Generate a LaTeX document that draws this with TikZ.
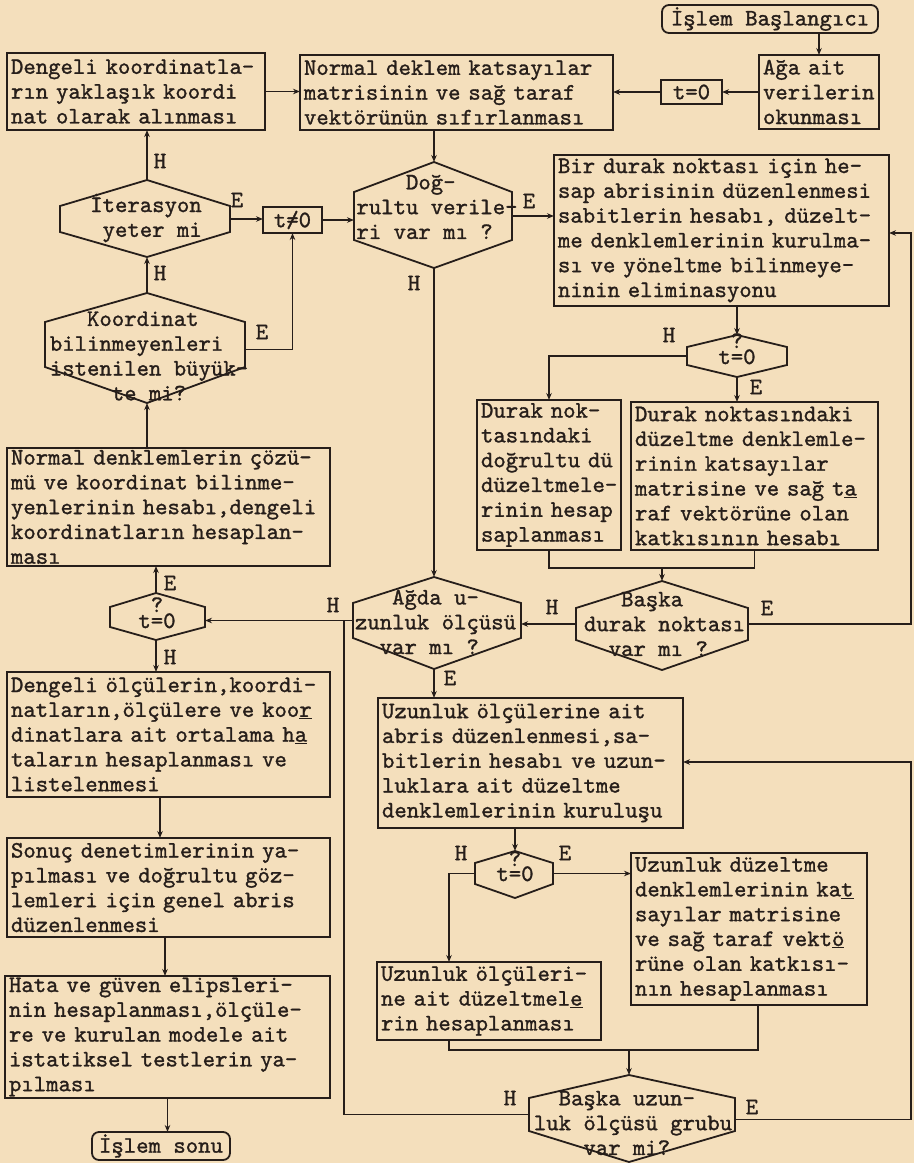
\documentclass[tikz,border=0pt]{standalone}
\usepackage{fontspec}
\usetikzlibrary{arrows.meta}
\newfontfamily\twfont{lmmono10-regular.otf}[FakeBold=1.2]
\definecolor{paper}{RGB}{244,223,188}
\definecolor{ink}{RGB}{38,30,26}
\newcommand\tl[1]{\mbox{#1}}
% name, xl, xr, ytop, ys1, ys2, ybot, xc
\newcommand\hexdec[8]{%
  \node[hexbox, minimum width={(#3)-(#2)}, minimum height={(#6)-(#5)}] (#1) at ({(#2+#3)/2},{(#5+#6)/2}) {};
  \draw[ln] (#2,#5) -- (#8,#4) -- (#3,#5) -- (#3,#6) -- (#8,#7) -- (#2,#6) -- cycle;
  \coordinate (#1-n) at (#8,#4);
  \coordinate (#1-s) at (#8,#7);
}
\begin{document}
\begin{tikzpicture}[x=1pt,y=-1pt,
  ln/.style={draw=ink, line width=1.8pt},
  arr/.style={ln, -{Stealth[length=7pt,width=5.5pt]}},
  txt/.style={font=\twfont\fontsize{23.6pt}{24.8pt}\selectfont, text=ink},
  pbox/.style={txt, draw=ink, line width=1.8pt, rectangle, anchor=north west, inner xsep=4pt, inner ysep=0pt, outer sep=0pt, align=left},
  cbox/.style={txt, draw=ink, line width=1.8pt, rectangle, inner sep=0pt, outer sep=0pt, align=center},
  hexbox/.style={rectangle, draw=none, inner sep=0pt, outer sep=0pt},
  htxt/.style={txt, inner sep=0pt, align=left},
  lbl/.style={txt, inner sep=0pt},
]
\fill[paper] (0,0) rectangle (914,1163);
\useasboundingbox (0,0) rectangle (914,1163);

% ---------- boxes ----------
\node[cbox, rounded corners=7pt, minimum width=216pt, minimum height=28pt] (start) at (770,19) {İşlem Başlangıcı};
\node[pbox, minimum width=120pt, minimum height=74pt, text width=112pt] (aga) at (759,55) {\tl{Ağa ait}\\\tl{verilerin}\\\tl{okunması}};
\node[cbox, minimum width=61pt, minimum height=24pt] (t0) at (691.5,92) {t=0};
\node[pbox, minimum width=313pt, minimum height=75pt, text width=305pt] (norm) at (300,55) {\tl{Normal deklem katsayılar}\\\tl{matrisinin ve sağ taraf}\\\tl{vektörünün sıfırlanması}};
\node[pbox, minimum width=258pt, minimum height=77pt, text width=250pt] (deng) at (7,53) {\tl{Dengeli koordinatla-}\\\tl{rın yaklaşık koordi}\\\tl{nat olarak alınması}};
\node[cbox, minimum width=59pt, minimum height=26pt] (tne) at (292.5,220) {t\rlap{/}=0};
\node[pbox, minimum width=335pt, minimum height=151pt, text width=327pt] (b16) at (554,155) {\tl{Bir durak noktası için he-}\\\tl{sap abrisinin düzenlenmesi}\\\tl{sabitlerin hesabı, düzelt-}\\\tl{me denklemlerinin kurulma-}\\\tl{sı ve yöneltme bilinmeye-}\\\tl{ninin eliminasyonu}};
\node[pbox, minimum width=144pt, minimum height=150pt, text width=136pt] (b18) at (477,400) {\tl{Durak nok-}\\\tl{tasındaki}\\\tl{doğrultu dü}\\\tl{düzeltmele-}\\\tl{rinin hesap}\\\tl{saplanması}};
\node[pbox, minimum width=247pt, minimum height=148pt, text width=239pt] (b19) at (631,402) {\tl{Durak noktasındaki}\\\tl{düzeltme denklemle-}\\\tl{rinin katsayılar}\\\tl{matrisine ve sağ t\underline{a}}\\\tl{raf vektörüne olan}\\\tl{katkısının hesabı}};
\node[pbox, minimum width=323pt, minimum height=118pt, text width=315pt] (b10) at (7,448) {\tl{Normal denklemlerin çözü-}\\\tl{mü ve koordinat bilinme-}\\\tl{yenlerinin hesabı,dengeli}\\\tl{koordinatların hesaplan-}\\\tl{ması}};
\node[pbox, minimum width=323pt, minimum height=125pt, text width=315pt] (b12) at (7,672) {\tl{Dengeli ölçülerin,koordi-}\\\tl{natların,ölçülere ve koo\underline{r}}\\\tl{dinatlara ait ortalama h\underline{a}}\\\tl{taların hesaplanması ve}\\\tl{listelenmesi}};
\node[pbox, minimum width=323pt, minimum height=99pt, text width=315pt] (b13) at (7,838) {\tl{Sonuç denetimlerinin ya-}\\\tl{pılması ve doğrultu göz-}\\\tl{lemleri için genel abris}\\\tl{düzenlenmesi}};
\node[pbox, minimum width=325pt, minimum height=122pt, text width=317pt] (b14) at (5,976) {\tl{Hata ve güven elipsleri-}\\\tl{nin hesaplanması,ölçüle-}\\\tl{re ve kurulan modele ait}\\\tl{istatiksel testlerin ya-}\\\tl{pılması}};
\node[cbox, rounded corners=7pt, minimum width=138pt, minimum height=28pt] (sonu) at (161,1146) {İşlem sonu};
\node[pbox, minimum width=305pt, minimum height=130pt, text width=297pt] (b23) at (378,698) {\tl{Uzunluk ölçülerine ait}\\\tl{abris düzenlenmesi,sa-}\\\tl{bitlerin hesabı ve uzun-}\\\tl{luklara ait düzeltme}\\\tl{denklemlerinin kuruluşu}};
\node[pbox, minimum width=224pt, minimum height=78pt, text width=216pt] (b25) at (377,962) {\tl{Uzunluk ölçüleri-}\\\tl{ne ait düzeltmel\underline{e}}\\\tl{rin hesaplanması}};
\node[pbox, minimum width=236pt, minimum height=152pt, text width=228pt] (b26) at (631,853) {\tl{Uzunluk düzeltme}\\\tl{denklemlerinin ka\underline{t}}\\\tl{sayılar matrisine}\\\tl{ve sağ taraf vekt\underline{ö}}\\\tl{rüne olan katkısı-}\\\tl{nın hesaplanması}};

% ---------- decisions ----------
\hexdec{dog}{354}{512}{162}{192}{240}{268}{434}
\node[htxt] (dogt) at (437,207) {\hphantom{rult}Doğ-\\rultu verile-\\ri var mı ?};
\hexdec{iter}{60}{230}{180}{206}{232}{257}{147}
\node[txt, inner sep=0pt, align=center] (itert) at (146,218) {İterasyon\\\hphantom{x}yeter mi};
\hexdec{koor}{45}{245}{293}{322}{367}{403}{147}
\node[htxt] (koort) at (149,356) {\hphantom{xxx}Koordinat\\bilinmeyenleri\\istenilen büyük-\\\hphantom{xxxxx}te mi?};
\hexdec{lt0}{110}{205}{593}{607}{627}{640}{156}
\node[txt, inner sep=0pt, anchor=base] (lt0t) at (157,628) {t\rlap{\raisebox{16pt}{?}}=0};
\hexdec{rt0}{687}{787}{335}{347}{365}{377}{737}
\node[txt, inner sep=0pt, anchor=base] (rt0t) at (737,364) {t\rlap{\raisebox{16pt}{?}}=0};
\hexdec{agda}{353}{521}{577}{603}{638}{669}{434}
\node[htxt] (agdat) at (435.5,622) {\hphantom{zun}Ağda u-\\zunluk ölçüsü\\\hphantom{zu}var mı ?};
\hexdec{bdur}{576}{748}{581}{608}{640}{670}{662}
\node[htxt] (bdurt) at (664.5,624) {\hphantom{dur}Başka\\durak noktası\\\hphantom{du}var mı ?};
\hexdec{bt0}{475}{553}{851}{863}{884}{898}{515}
\node[txt, inner sep=0pt, anchor=base] (bt0t) at (515,881) {t\rlap{\raisebox{15pt}{?}}=0};
\hexdec{buz}{529}{735}{1075}{1098}{1131}{1162}{629}
\node[htxt] (buzt) at (633,1123) {\hphantom{lu}Başka uzun-\\luk ölçüsü grubu\\\hphantom{luka}var mi?};

% ---------- connectors ----------
\draw[arr] (aga.north |- start.south) -- (aga.north);
\draw[arr] (aga.west) -- (aga.west -| t0.east);
\draw[arr] (t0.west) -- (t0.west -| norm.east);
\draw[arr] (deng.east) -- (deng.east -| norm.west);
\draw[arr] (norm.south -| dog-n) -- (dog-n);
\draw[arr] (dog.east) -- (dog.east -| b16.west);
\draw[arr] (iter-n) -- (iter-n |- deng.south);
\draw[arr] (iter.east) -- (iter.east -| tne.west);
\draw[arr] (tne.east) -- (tne.east -| dog.west);
\draw[arr] (koor-n) -- (iter-s);
\draw[arr] ([yshift=-5pt]koor.east) -| (tne.south);
\draw[arr] (b10.north -| koor-s) -- (koor-s);
\draw[arr] (lt0-n) -- (lt0-n |- b10.south);
\draw[arr] (lt0-s) -- (lt0-s |- b12.north);
\draw[arr] (agda.west) -- (agda.west -| lt0.east);
\coordinate (j1) at (344,620.5);
\draw[ln] (buz.west) -| (j1);
\draw[arr] (dog-s) -- (agda-n);
\draw[arr] (agda-s) -- (agda-s |- b23.north);
\draw[arr] (rt0-n |- b16.south) -- (rt0-n);
\draw[arr] (rt0.west) -| (b18.north);
\draw[arr] (rt0-s) -- (rt0-s |- b19.north);
\coordinate (m1) at (662,568);
\draw[ln] (b18.south) |- (m1) -| (b19.south);
\draw[arr] (m1) -- (bdur-n);
\draw[arr] (bdur.west) -- (bdur.west -| agda.east);
\coordinate (r1) at (911,233);
\draw[arr] (bdur.east) -| (r1) -- (r1 -| b16.east);
\draw[arr] ([xshift=-8.5pt]b12.south) -- ([xshift=-8.5pt]b13.north);
\draw[arr] ([xshift=-3.5pt]b13.south) -- ([xshift=-2.5pt]b14.north);
\draw[arr] (b14.south) -- (b14.south |- sonu.north);
\draw[arr] (bt0-n |- b23.south) -- (bt0-n);
\draw[arr] (bt0.east) -- (bt0.east -| b26.west);
\draw[arr] (bt0.west) -| ([xshift=-40pt]b25.north);
\coordinate (m2) at (629,1050);
\draw[ln] ([xshift=-40pt]b25.south) |- (m2) -| ([xshift=9pt]b26.south);
\draw[arr] (m2) -- (buz-n);
\coordinate (r2) at (911,762);
\draw[arr] ([yshift=-5pt]buz.east) -| (r2) -- (r2 -| b23.east);

% ---------- labels ----------
\node[lbl] (l1) at (160,161) {H};
\node[lbl] (l2) at (237,200) {E};
\node[lbl] (l3) at (160,273) {H};
\node[lbl] (l4) at (529,201) {E};
\node[lbl] (l5) at (414,283) {H};
\node[lbl] (l6) at (262,332) {E};
\node[lbl] (l7) at (170,583) {E};
\node[lbl] (l8) at (170,657) {H};
\node[lbl] (l9) at (333,605) {H};
\node[lbl] (l10) at (450,678) {E};
\node[lbl] (l11) at (669,335) {H};
\node[lbl] (l12) at (756,387) {E};
\node[lbl] (l13) at (552,607) {H};
\node[lbl] (l14) at (767,608) {E};
\node[lbl] (l15) at (461,853) {H};
\node[lbl] (l16) at (565,853) {E};
\node[lbl] (l17) at (510,1098) {H};
\node[lbl] (l18) at (752,1107) {E};
\end{tikzpicture}
\end{document}
